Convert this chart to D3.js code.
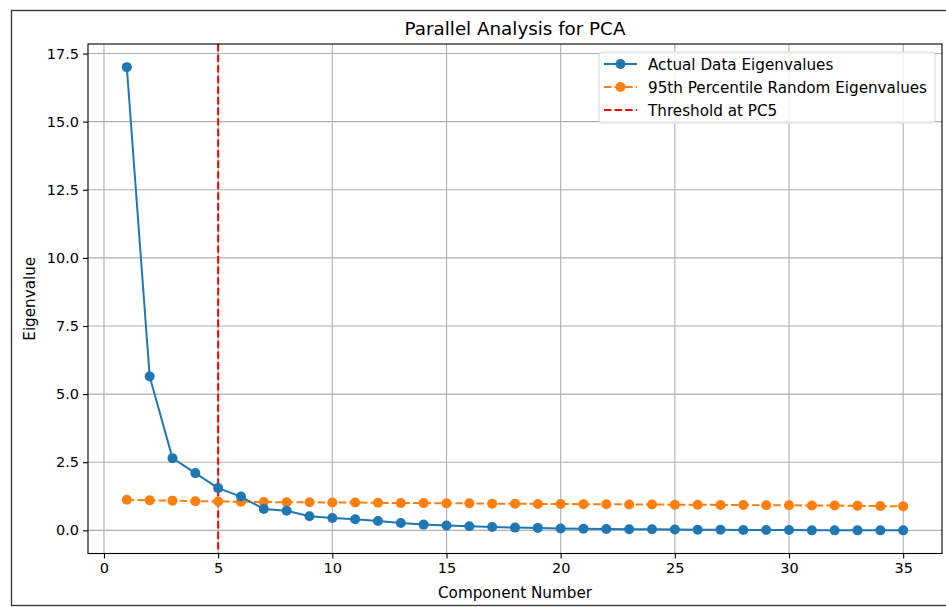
<!DOCTYPE html>
<html>
<head>
<meta charset="utf-8">
<script src="https://cdn.jsdelivr.net/npm/d3@7"></script>
<style>
  body { margin: 0; background: #fff; }
  svg { font-family: "DejaVu Sans", sans-serif; }
</style>
</head>
<body>
<svg width="946" height="607"></svg>
<script>
// component numbers 1..35
var components = [1,2,3,4,5,6,7,8,9,10,11,12,13,14,15,16,17,18,19,20,
                  21,22,23,24,25,26,27,28,29,30,31,32,33,34,35];

// eigenvalues
var actualEig = [17.0, 5.65, 2.65, 2.1, 1.55, 1.24, 0.78, 0.72, 0.52, 0.45,
                 0.41, 0.34, 0.27, 0.21, 0.18, 0.15, 0.12, 0.10, 0.09, 0.07,
                 0.06, 0.05, 0.04, 0.04, 0.03, 0.02, 0.02, 0.01, 0.01, 0.01,
                 0.00, 0.00, 0.00, 0.00, 0.00];
var randomEig = [1.12, 1.10, 1.09, 1.07, 1.06, 1.05, 1.04, 1.03, 1.03, 1.02,
                 1.02, 1.01, 1.00, 1.00, 0.99, 0.99, 0.98, 0.98, 0.97, 0.97,
                 0.96, 0.96, 0.95, 0.95, 0.94, 0.94, 0.93, 0.93, 0.92, 0.92,
                 0.91, 0.91, 0.90, 0.89, 0.88];
var threshold = 5;

var xTicks = [0, 5, 10, 15, 20, 25, 30, 35];
var yTicks = [0, 2.5, 5, 7.5, 10, 12.5, 15, 17.5];
var legendLabels = ["Actual Data Eigenvalues", "95th Percentile Random Eigenvalues", "Threshold at PC5"];

drawChart();

function drawChart() {
    var svg = d3.select("svg");

    // outer figure frame
    svg.append("rect")
        .attr("x", 11.5).attr("y", 10.5)
        .attr("width", 945).attr("height", 595)
        .attr("fill", "none")
        .attr("stroke", "#333")
        .attr("stroke-width", 1.3);

    var pLeft = 88, pRight = 942, pTop = 44, pBottom = 553.5;

    var x = d3.scaleLinear().domain([-0.7, 36.7]).range([pLeft, pRight]);
    var y = d3.scaleLinear().domain([-0.85, 17.85]).range([pBottom, pTop]);

    // grid
    var grid = svg.append("g");
    grid.selectAll(".gx").data(xTicks).enter().append("line")
        .attr("x1", function(d) { return x(d); }).attr("x2", function(d) { return x(d); })
        .attr("y1", pTop).attr("y2", pBottom)
        .attr("stroke", "#b0b0b0").attr("stroke-width", 1.1);
    grid.selectAll(".gy").data(yTicks).enter().append("line")
        .attr("y1", function(d) { return y(d); }).attr("y2", function(d) { return y(d); })
        .attr("x1", pLeft).attr("x2", pRight)
        .attr("stroke", "#b0b0b0").attr("stroke-width", 1.1);

    // axes
    var xAxis = svg.append("g")
        .attr("transform", "translate(0," + pBottom + ")")
        .call(d3.axisBottom(x).tickValues(xTicks).tickSize(5).tickPadding(4).tickFormat(d3.format("d")));
    var yAxis = svg.append("g")
        .attr("transform", "translate(" + pLeft + ",0)")
        .call(d3.axisLeft(y).tickValues(yTicks).tickSize(5).tickPadding(4).tickFormat(d3.format(".1f")));
    [xAxis, yAxis].forEach(function(a) {
        a.select(".domain").remove();
        a.selectAll("text").style("font-size", "14.5px").attr("fill", "#000")
            .style("font-family", "DejaVu Sans");
        a.selectAll("line").attr("stroke", "#000").attr("stroke-width", 1.1);
    });

    // threshold
    svg.append("line")
        .attr("x1", x(threshold)).attr("x2", x(threshold))
        .attr("y1", pTop).attr("y2", pBottom)
        .attr("stroke", "#ff0000").attr("stroke-width", 2)
        .attr("stroke-dasharray", "7.4,3.2");

    var line = d3.line()
        .x(function(d, i) { return x(components[i]); })
        .y(function(d) { return y(d); });

    // random eigenvalues
    svg.append("path").datum(randomEig)
        .attr("d", line).attr("fill", "none")
        .attr("stroke", "#ff7f0e").attr("stroke-width", 2)
        .attr("stroke-dasharray", "7.4,3.2");
    svg.selectAll(".rp").data(randomEig).enter().append("circle")
        .attr("cx", function(d, i) { return x(components[i]); })
        .attr("cy", function(d) { return y(d); })
        .attr("r", 5).attr("fill", "#ff7f0e");

    // actual eigenvalues
    svg.append("path").datum(actualEig)
        .attr("d", line).attr("fill", "none")
        .attr("stroke", "#1f77b4").attr("stroke-width", 2);
    svg.selectAll(".ap").data(actualEig).enter().append("circle")
        .attr("cx", function(d, i) { return x(components[i]); })
        .attr("cy", function(d) { return y(d); })
        .attr("r", 5).attr("fill", "#1f77b4");

    // plot frame
    svg.append("rect")
        .attr("x", pLeft).attr("y", pTop)
        .attr("width", pRight - pLeft).attr("height", pBottom - pTop)
        .attr("fill", "none").attr("stroke", "#000").attr("stroke-width", 1.1);

    // titles
    svg.append("text")
        .attr("x", (pLeft + pRight) / 2).attr("y", 35)
        .attr("text-anchor", "middle").style("font-size", "18.3px")
        .text("Parallel Analysis for PCA");
    svg.append("text")
        .attr("x", (pLeft + pRight) / 2).attr("y", 598)
        .attr("text-anchor", "middle").style("font-size", "15.2px")
        .text("Component Number");
    svg.append("text")
        .attr("transform", "translate(35," + ((pTop + pBottom) / 2) + ") rotate(-90)")
        .attr("text-anchor", "middle").style("font-size", "15.2px")
        .text("Eigenvalue");

    // legend
    var lg = svg.append("g").attr("transform", "translate(599,52)");
    lg.append("rect")
        .attr("width", 336).attr("height", 71).attr("rx", 3)
        .attr("fill", "#fff").attr("fill-opacity", 0.8)
        .attr("stroke", "#d6d6d6").attr("stroke-width", 1);
    var colors = ["#1f77b4", "#ff7f0e", "#ff0000"];
    var dashes = [null, "7.4,3.2", "7.4,3.2"];
    legendLabels.forEach(function(t, i) {
        var yy = 12 + i * 23;
        lg.append("line")
            .attr("x1", 5).attr("x2", 38).attr("y1", yy).attr("y2", yy)
            .attr("stroke", colors[i]).attr("stroke-width", 2)
            .attr("stroke-dasharray", dashes[i]);
        if (i < 2) {
            lg.append("circle").attr("cx", 21.5).attr("cy", yy).attr("r", 5).attr("fill", colors[i]);
        }
        lg.append("text")
            .attr("x", 49).attr("y", yy + 5.5)
            .style("font-size", "15.2px")
            .text(t);
    });
}
</script>
</body>
</html>
